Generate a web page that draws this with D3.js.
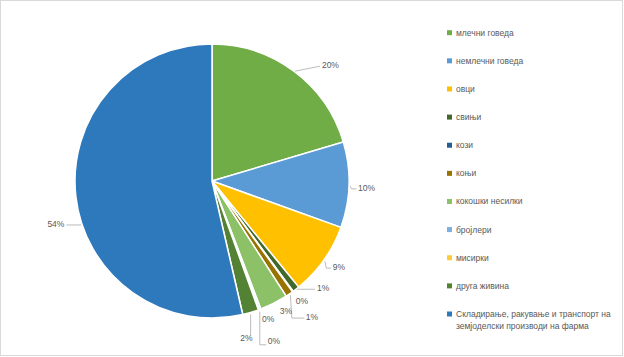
<!DOCTYPE html>
<html><head><meta charset="utf-8">
<script src="https://cdn.jsdelivr.net/npm/d3@7/dist/d3.min.js"></script>
<style>
html,body{margin:0;padding:0;background:#fff;}
svg{display:block;}
text{font-family:"Liberation Sans",Arial,sans-serif;}
</style></head>
<body>
<svg id="chart" width="624" height="357"></svg>
<script>
// ---- data ----
const categories = [
  "млечни говеда",
  "немлечни говеда",
  "овци",
  "свињи",
  "кози",
  "коњи",
  "кокошки несилки",
  "бројлери",
  "мисирки",
  "друга живина",
  "Складирање, ракување и транспорт на земјоделски производи на фарма"
];
const values = [20.4, 10.1, 8.6, 0.8, 0.1, 0.9, 3.3, 0.2, 0.1, 1.9, 53.6];
const labels = ["20%","10%","9%","1%","0%","1%","3%","0%","0%","2%","54%"];
const legendLines = [
  ["млечни говеда"],["немлечни говеда"],["овци"],["свињи"],["кози"],["коњи"],
  ["кокошки несилки"],["бројлери"],["мисирки"],["друга живина"],
  ["Складирање, ракување и транспорт на","земјоделски производи на фарма"]
];
const colors = ["#70AD47","#5B9BD5","#FFC000","#43682B","#255E91","#997300",
                "#8CC168","#7CAFDD","#FFCD33","#548235","#2E78BC"];

// ---- label layout (offsets from slice mid-point on the rim) ----
const labelLayout = [
  {dx:28, dy:-6, anchor:"start", leader:"straight"},
  {dx:9,  dy:3,  anchor:"start", leader:"elbow"},
  {dx:9,  dy:7,  anchor:"start", leader:"elbow"},
  {dx:21, dy:-1, anchor:"start", leader:"straight"},
  {dx:3,  dy:9,  anchor:"start", leader:"none"},
  {dx:16.5, dy:23, anchor:"start", leader:"elbow"},
  {dx:6,  dy:8,  anchor:"start", leader:"none"},
  {dx:2,  dy:10, anchor:"start", leader:"none"},
  {dx:9,  dy:31, anchor:"start", leader:"elbowLow"},
  {dx:2,  dy:26, anchor:"end",   leader:"vertical"},
  {dx:-11.5, dy:27.5, anchor:"end", leader:"horiz"}
];

const svg = d3.select("#chart");
const W = 624, H = 357;
svg.append("rect").attr("x",0.5).attr("y",0.5).attr("width",W-2).attr("height",H-2)
  .attr("fill","#fff").attr("stroke","#d9d9d9").attr("stroke-width",1);

const cx = 212, cy = 181, R = 137;
const g = svg.append("g").attr("transform",`translate(${cx},${cy})`);

const pie = d3.pie().sort(null).value(d=>d)(values);
const arc = d3.arc().innerRadius(0).outerRadius(R);

g.selectAll("path.slice").data(pie).join("path")
  .attr("class","slice")
  .attr("d",arc)
  .attr("fill",(d,i)=>colors[i])
  .attr("stroke","#fff").attr("stroke-width",1.5).attr("stroke-linejoin","round");

const textColor = "#595959";
const lineColor = "#a6a6a6";
pie.forEach((d,i)=>{
  const a = (d.startAngle + d.endAngle)/2;
  const px = R*Math.sin(a), py = -R*Math.cos(a);
  const L = labelLayout[i];
  const tx = px + L.dx, ty = py + L.dy;
  g.append("text").attr("x",tx).attr("y",ty).attr("dy","0.35em")
    .attr("text-anchor",L.anchor).attr("font-size","8.5px").attr("fill",textColor)
    .text(labels[i]);
  let pts = null;
  if (L.leader === "straight") pts = [[px+1,py],[tx-2,ty+1]];
  else if (L.leader === "elbow") pts = [[px+1,py+1],[px+2.5,ty+1],[tx-1.5,ty+1]];
  else if (L.leader === "elbowLow") pts = [[px+1,py+2],[px+1,ty+4],[tx-1.5,ty+4]];
  else if (L.leader === "vertical") pts = [[px,py+2],[px,ty-3]];
  else if (L.leader === "horiz") {
    const yy = ty+1;
    const xr = -Math.sqrt(R*R - yy*yy);
    pts = [[tx+2,yy],[xr-1,yy]];
  }
  if (pts) g.append("path").attr("d",d3.line()(pts))
    .attr("fill","none").attr("stroke",lineColor).attr("stroke-width",0.75);
});

// ---- legend ----
const legY = d3.scalePoint().domain(d3.range(categories.length)).range([32.7, 314]);
const leg = svg.append("g");
categories.forEach((c,i)=>{
  const y = legY(i);
  leg.append("rect").attr("x",447).attr("y",y-2.5).attr("width",5).attr("height",5).attr("fill",colors[i]);
  legendLines[i].forEach((ln,j)=>{
    leg.append("text").attr("x",456).attr("y",y + j*11.7).attr("dy","0.35em")
      .attr("font-size","8.5px").attr("fill",textColor).text(ln);
  });
});
</script>
</body></html>
